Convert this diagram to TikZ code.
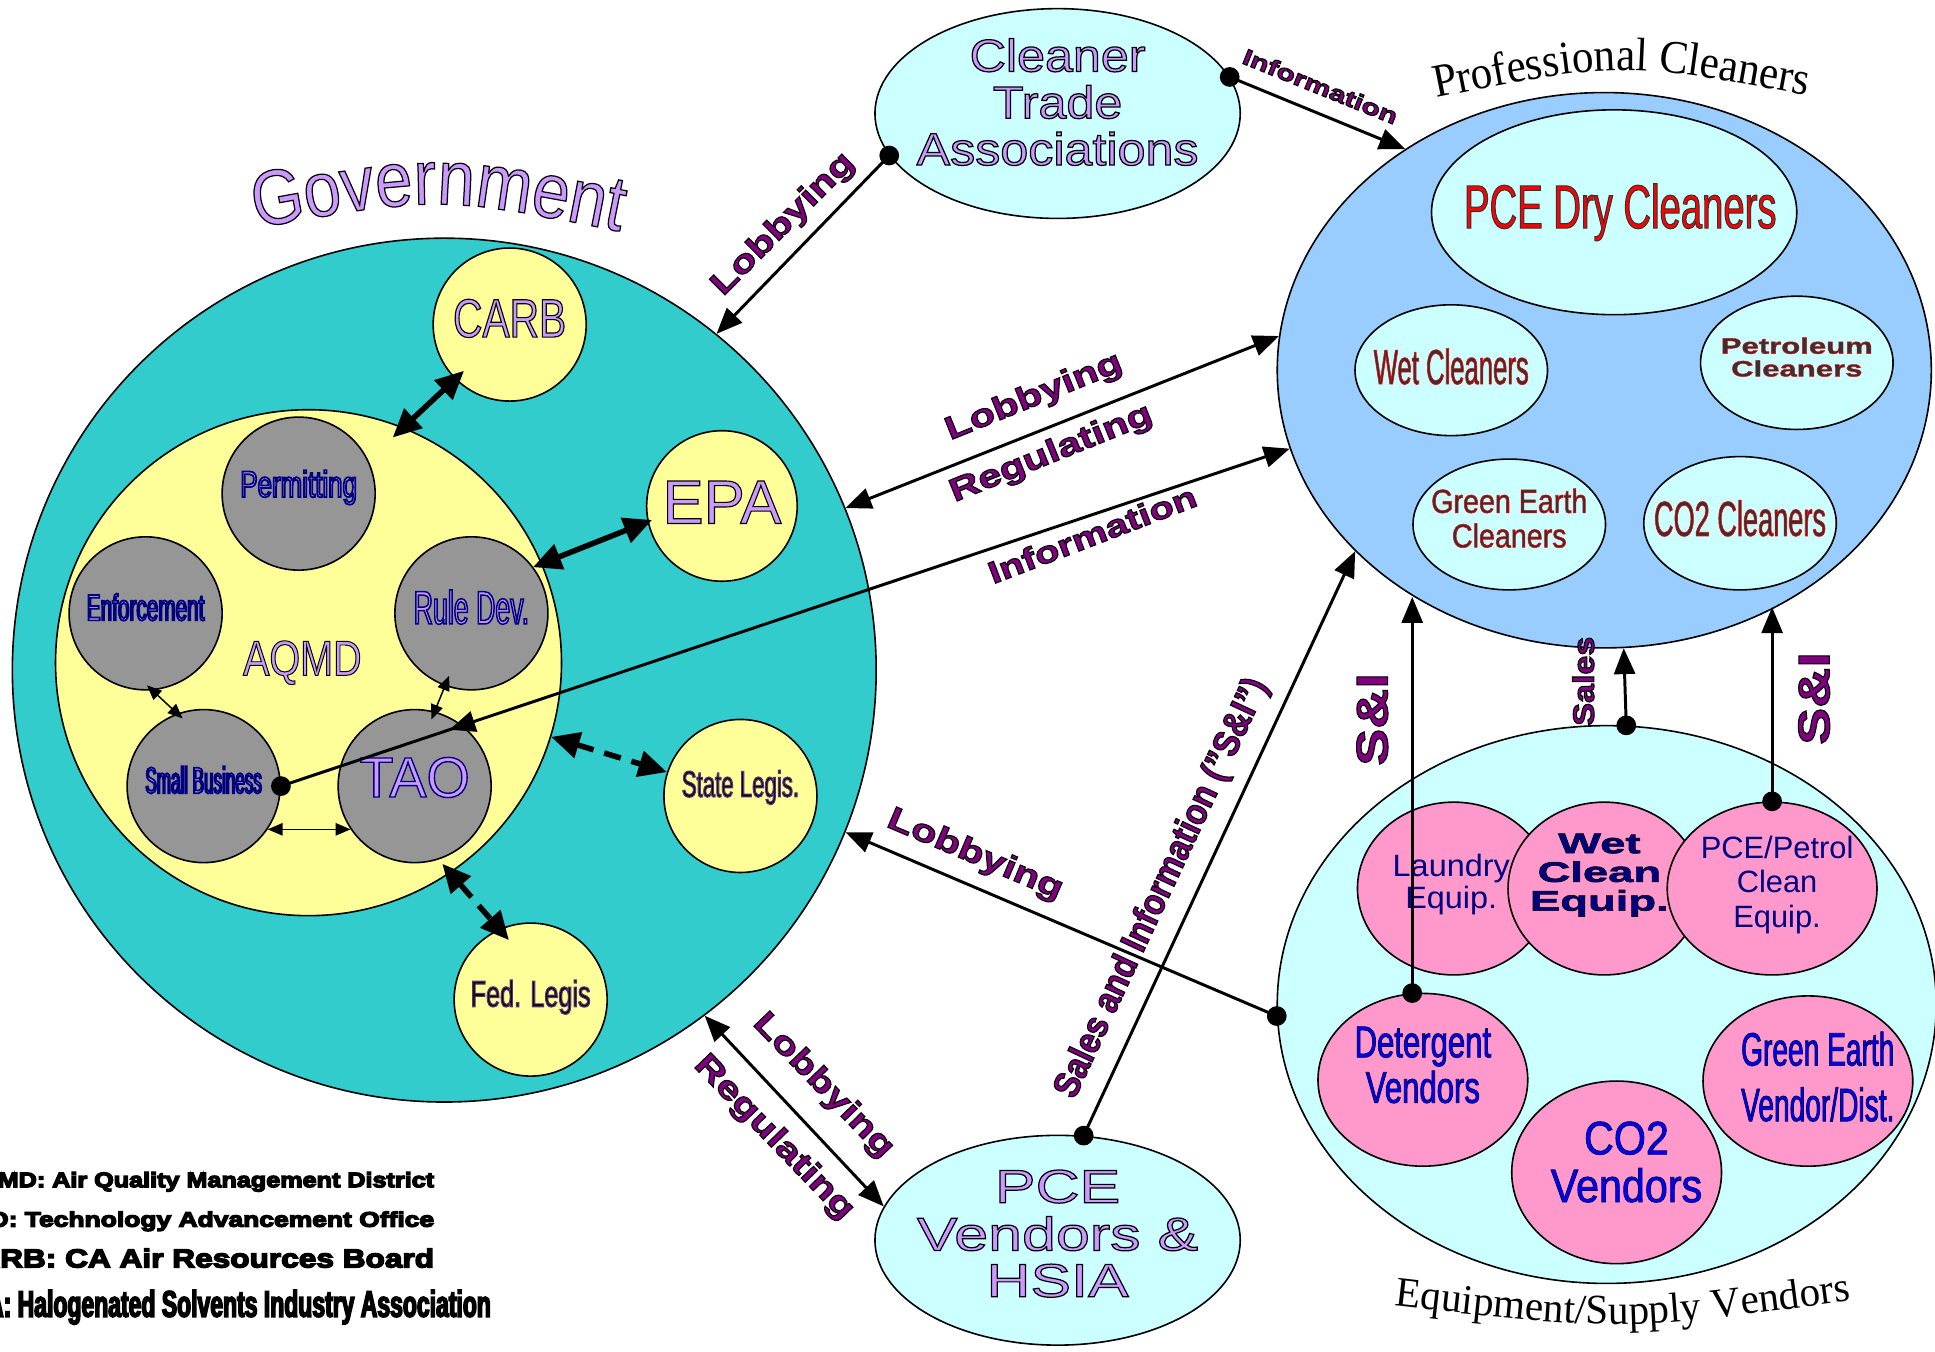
\documentclass[tikz,border=0pt]{standalone}
\usepackage{fontspec}
\setmainfont{Liberation Sans}
\newfontfamily\serifft{Liberation Serif}
\usetikzlibrary{arrows.meta,decorations.text,calc,shapes.geometric}
\definecolor{tealc}{HTML}{33CCCC}
\definecolor{yel}{HTML}{FFFF99}
\definecolor{grayc}{HTML}{969696}
\definecolor{lav}{HTML}{CC99FF}
\definecolor{navy}{HTML}{000080}
\definecolor{pcblue}{HTML}{99CCFF}
\definecolor{lcyan}{HTML}{CCFFFF}
\definecolor{pinkc}{HTML}{FF99CC}
\definecolor{plab}{HTML}{800080}
\definecolor{dgray}{HTML}{333333}
\definecolor{bluet}{HTML}{0000FF}
\newcommand\olt[4]{{\color{#1}\special{pdf:literal direct 2 Tr #3 w #2 RG}#4\special{pdf:literal direct 0 Tr}}}
\newcommand\F[3]{\fontsize{#1}{#2}\selectfont\addfontfeatures{FakeStretch=#3}}
\newcommand\stk[1]{\begin{tabular}{@{}c@{}}#1\end{tabular}}
\newcommand\lbl[1]{\olt{plab}{0 0 0}{0.9}{#1}}
\def\govfmt{\F{63}{63}{0.86}\color{lav}\special{pdf:literal direct 2 Tr 1 w 0 0 0 RG}}
\def\pcfmt{\serifft\F{38}{38}{0.92}}
\def\evfmt{\serifft\F{34}{34}{0.98}}
\begin{document}
\begin{tikzpicture}[x=1pt,y=-1pt,
  bord/.style={draw=black, line width=1.3pt},
  circ/.style={circle, bord, inner sep=0pt, minimum size=#1},
  ell/.style 2 args={ellipse, bord, inner sep=0pt, minimum width=#1, minimum height=#2},
  txt/.style={inner sep=0pt},
  arr/.style={line width=2.4pt, -{Triangle[length=21pt,width=17pt]}},
  darr/.style={line width=2.4pt, {Triangle[length=21pt,width=17pt]}-{Triangle[length=21pt,width=17pt]}},
  thinarr/.style={line width=1.2pt, {Triangle[length=12pt,width=10pt]}-{Triangle[length=12pt,width=10pt]}},
  thickarr/.style={line width=4.5pt, {Triangle[length=23pt,width=21pt]}-{Triangle[length=23pt,width=21pt]}},
  dasharr/.style={thickarr, dash pattern=on 14pt off 9pt},
  blackdot/.style={circle, fill=black, inner sep=0pt, minimum size=16pt},
  lab/.style={inner sep=0pt, font=\bfseries\F{26}{26}{1.3}},
]
\useasboundingbox (0,0) rectangle (1568,1095);
\fill[white] (0,0) rectangle (1568,1095);

% ---------- Government ----------
\node[circ=700pt, fill=tealc] (gov) at (360,543) {};
\path[decorate, decoration={text along path, text align=center, text={|\govfmt|Government}}]
  (195,187) .. controls (355,158) .. (515,190);
\node[circ=410pt, fill=yel] (aqmd) at (250,537) {};
\node[circ=124pt, fill=grayc] (perm) at (242,400) {};
\node[circ=124pt, fill=grayc] (enf) at (118,497) {};
\node[circ=124pt, fill=grayc] (rd) at (382,497) {};
\node[circ=124pt, fill=grayc] (sb) at (165,637) {};
\node[circ=124pt, fill=grayc] (tao) at (336,637) {};
\node[circ=124pt, fill=yel] (carb) at (413,263) {};
\node[circ=122pt, fill=yel] (epa) at (585,410) {};
\node[circ=124pt, fill=yel] (state) at (600,645) {};
\node[circ=124pt, fill=yel] (fed) at (430,810) {};

\node[txt, font=\F{40}{40}{0.8}] (aqmdt) at (245,537) {\olt{lav}{0 0 0}{0.8}{AQMD}};
\node[txt, font=\F{30}{30}{0.7}] (permt) at (242,395) {\olt{lav}{0 0 0.5}{1.4}{Permitting}};
\node[txt, font=\F{30}{30}{0.56}] (enft) at (118,492) {\olt{lav}{0 0 0.5}{1.4}{Enforcement}};
\node[txt, font=\F{38}{38}{0.57}] (rdt) at (382,492) {\olt{lav}{0 0 0.5}{1.2}{Rule Dev.}};
\node[txt, font=\F{30}{30}{0.46}] (sbt) at (165,632) {\olt{lav}{0 0 0.5}{1.4}{Small Business}};
\node[txt, font=\F{46}{46}{0.98}] (taot) at (336,630) {\olt{lav}{0 0 0.5}{1.1}{TAO}};
\node[txt, font=\F{44}{44}{0.75}] (carbt) at (413,258) {\olt{lav}{0 0 0}{0.9}{CARB}};
\node[txt, font=\F{50}{50}{1.0}] (epat) at (585,407) {\olt{lav}{0 0 0}{0.9}{EPA}};
\node[txt, font=\F{30}{30}{0.6}] (statet) at (600,638) {\olt{black}{0.35 0.2 0.45}{0.9}{State Legis.}};
\node[txt, font=\F{30}{30}{0.68}] (fedt) at (430,808) {\olt{black}{0.35 0.2 0.45}{0.9}{Fed. Legis}};

% ---------- Cleaner Trade Associations & PCE Vendors ----------
\node[ell={296pt}{170pt}, fill=lcyan] (cta) at (857,92) {};
\node[txt, font=\F{37}{37}{1.1}] (ctat) at (857,88) {\olt{lav}{0 0 0}{1}{\stk{Cleaner\\Trade\\Associations}}};
\node[ell={296pt}{170pt}, fill=lcyan] (pv) at (857,1005) {};
\node[txt, font=\F{38}{37}{1.3}] (pvt) at (857,1005) {\olt{lav}{0 0 0}{1}{\stk{PCE\\Vendors \&\\HSIA}}};

% ---------- Professional Cleaners ----------
\node[ell={530pt}{450pt}, fill=pcblue] (pc) at (1300,300) {};
\path[decorate, decoration={text along path, text align=center, text={|\pcfmt|Professional Cleaners}}]
  (1150,82) .. controls (1313,49) .. (1478,80);
\node[ell={296pt}{166pt}, fill=lcyan] (pcd) at (1308,172) {};
\node[ell={156pt}{106pt}, fill=lcyan] (wetc) at (1176,300) {};
\node[ell={156pt}{108pt}, fill=lcyan] (petc) at (1456,294) {};
\node[ell={156pt}{106pt}, fill=lcyan] (gec) at (1223,425) {};
\node[ell={156pt}{108pt}, fill=lcyan] (co2c) at (1410,424) {};
\node[txt, font=\F{50}{50}{0.62}] (pcdt) at (1313,172) {\olt{red}{0.2 0.2 0.2}{0.8}{PCE Dry Cleaners}};
\node[txt, font=\F{40}{40}{0.52}] (wetct) at (1176,297) {\olt{dgray}{1 0 0}{0.5}{Wet Cleaners}};
\node[txt, font=\bfseries\F{18}{18}{1.4}] (petct) at (1456,292) {\olt{dgray}{1 0 0}{0.35}{\stk{Petroleum\\Cleaners}}};
\node[txt, font=\F{27}{28}{0.86}] (gect) at (1223,424) {\olt{dgray}{1 0 0}{0.45}{\stk{Green Earth\\Cleaners}}};
\node[txt, font=\F{40}{40}{0.55}] (co2ct) at (1410,420) {\olt{dgray}{1 0 0}{0.5}{CO2 Cleaners}};

% ---------- Equipment/Supply Vendors ----------
\node[ell={534pt}{452pt}, fill=lcyan] (ev) at (1302,814) {};
\path[decorate, decoration={text along path, text align=center, text={|\evfmt|Equipment/Supply Vendors}}]
  (1122,1057) .. controls (1313,1079) .. (1508,1053);
\node[ell={156pt}{140pt}, fill=pinkc] (le) at (1178,720) {};
\node[ell={156pt}{140pt}, fill=pinkc] (wce) at (1300,720) {};
\node[ell={170pt}{140pt}, fill=pinkc] (ppe) at (1436,720) {};
\node[ell={170pt}{140pt}, fill=pinkc] (det) at (1153,875) {};
\node[ell={170pt}{148pt}, fill=pinkc] (co2v) at (1310,950) {};
\node[ell={170pt}{138pt}, fill=pinkc] (gev) at (1465,876) {};
\node[txt, font=\F{25}{26}{1.05}, text=navy] (let) at (1176,718) {\stk{Laundry\\Equip.}};
\node[txt, font=\bfseries\F{23}{22}{1.6}] (wcet) at (1296,710) {\olt{navy}{0 0 0}{0.5}{\stk{Wet\\Clean\\Equip.}}};
\node[txt, font=\F{25}{28}{1.0}, text=navy] (ppet) at (1440,718) {\stk{PCE/Petrol\\Clean\\Equip.}};
\node[txt, font=\F{36}{36}{0.7}] (dett) at (1153,868) {\olt{bluet}{0 0 0.3}{0.6}{\stk{Detergent\\Vendors}}};
\node[txt, font=\F{38}{37}{0.88}] (co2vt) at (1318,947) {\olt{bluet}{0 0 0.3}{0.6}{\stk{CO2\\Vendors}}};
\node[txt, font=\F{38}{45}{0.6}] (gevt) at (1473,877) {\olt{bluet}{0 0 0.3}{0.6}{\stk{Green Earth\\Vendor/Dist.}}};

% ---------- AQMD internal connectors ----------
\draw[thinarr, shorten <=-6pt, shorten >=-6pt] (enf.-85) -- (sb.110);
\draw[thinarr, shorten <=-9pt, shorten >=-7pt] (rd.-110) -- (tao.75);
\draw[thinarr] (sb.-34) -- (tao.-146);
\draw[thickarr, shorten <=-12pt, shorten >=-10pt] (aqmd.68) -- (carb.-135);
\draw[thickarr, shorten <=-8pt, shorten >=-4pt] (aqmd.23) -- (epa.192);
\draw[dasharr] (aqmd.-17) -- (state.162);
\draw[dasharr, shorten <=-10pt, shorten >=-12pt] (aqmd.-56) -- (fed.114);

% ---------- main connectors ----------
\draw[arr] (cta.194) -- (gov.51);
\draw[arr] (cta.12) -- (pc.132);
\draw[darr] (gov.22) -- (pc.174);
\draw[arr] (sb.east) -- (pc.194);
\coordinate (ia) at ($(sb.east)!0.19!(pc.194)$);
\coordinate (ib) at ($(sb.east)!0.167!(pc.194)$);
\draw[arr] (ia) -- (ib);
\draw[arr] (pv.76) -- (pc.216);
\draw[arr] (ev.182) -- (gov.-22);
\draw[darr] (gov.-53) -- (pv.169);
\draw[arr] (ev.86) -- (pc.-86);
\draw[arr] (det.97) -- (det.97 |- pc.230);
\draw[arr] (ppe.north) -- (ppe.north |- pc.-54);

\foreach \p [count=\i] in {sb.east, cta.194, cta.12, pv.76, ev.182, ev.86, det.97, ppe.north}
  \node[blackdot] (dot\i) at (\p) {};

% ---------- connector labels ----------
\node[lab, rotate=45] (lobcta) at (635,182) {\lbl{Lobbying}};
\node[lab, font=\bfseries\F{18}{18}{1.35}, rotate=-22] (infocta) at (1070,70) {\lbl{Information}};
\node[lab, rotate=22] (lobpc) at (838,322) {\lbl{Lobbying}};
\node[lab, rotate=22] (regpc) at (852,368) {\lbl{Regulating}};
\node[lab, font=\bfseries\F{25}{25}{1.3}, rotate=21] (infopc) at (885,433) {\lbl{Information}};
\node[lab, font=\bfseries\F{30}{30}{0.88}, rotate=65] (sai) at (942,720) {\lbl{Sales and Information ("S\&I")}};
\node[lab, rotate=-23] (lobev) at (790,693) {\lbl{Lobbying}};
\node[lab, rotate=-46] (lobpv) at (667,880) {\lbl{Lobbying}};
\node[lab, rotate=-46] (regpv) at (627,922) {\lbl{Regulating}};
\node[lab, font=\bfseries\F{36}{36}{1.25}, rotate=90] (si1) at (1112,583) {\lbl{S\&I}};
\node[lab, font=\bfseries\F{24}{24}{1.15}, rotate=90] (sales) at (1283,552) {\lbl{Sales}};
\node[lab, font=\bfseries\F{36}{36}{1.25}, rotate=90] (si2) at (1470,566) {\lbl{S\&I}};

% ---------- legend ----------
\node[txt, anchor=base east, font=\bfseries\F{17}{17}{1.2}] (leg1) at (352,962) {\olt{black}{0 0 0}{1.1}{AQMD: Air Quality Management District}};
\node[txt, anchor=base east, font=\bfseries\F{17}{17}{1.26}] (leg2) at (352,994) {\olt{black}{0 0 0}{1.1}{TAO: Technology Advancement Office}};
\node[txt, anchor=base east, font=\bfseries\F{21}{21}{1.22}] (leg3) at (352,1027) {\olt{black}{0 0 0}{1.2}{CARB: CA Air Resources Board}};
\node[txt, anchor=base east, font=\bfseries\F{30}{30}{0.62}] (leg4) at (398,1067) {\olt{black}{0 0 0}{1.2}{HSIA: Halogenated Solvents Industry Association}};
\end{tikzpicture}
\end{document}
